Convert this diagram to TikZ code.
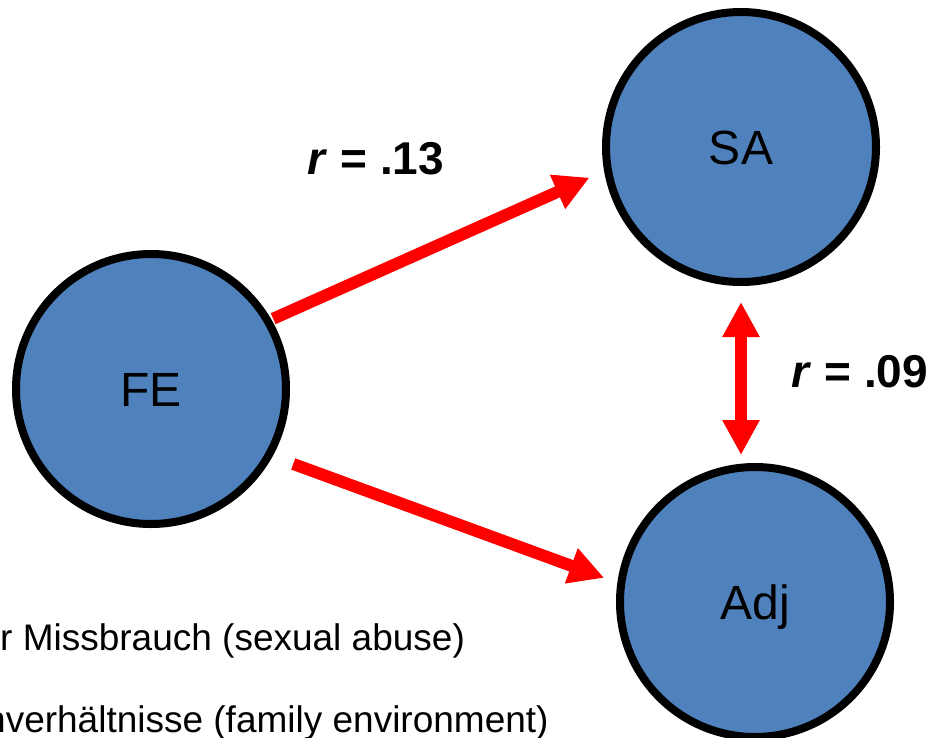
\documentclass[tikz,border=0pt]{standalone}
\usepackage{fontspec}
\setmainfont{Liberation Sans}
\usetikzlibrary{arrows.meta,calc}
\definecolor{varblue}{RGB}{79,129,189}
\tikzset{
  latent/.style={circle,draw=black,fill=varblue,line width=8pt,minimum size=270pt,
    inner sep=0pt,text height=34pt,text depth=0pt,font=\fontsize{48}{56}\selectfont},
  effarr/.style={-{Triangle[length=35pt,width=35pt]},line width=12pt,red},   % directed path
  corrarr/.style={{Triangle[length=35pt,width=35pt]}-{Triangle[length=35pt,width=35pt]},
    line width=12pt,red},                                                   % correlation
  rlbl/.style={font=\fontsize{46}{54}\selectfont\bfseries,inner sep=0pt,
    text height=33pt,text depth=0pt},
  legend/.style={font=\fontsize{37}{44}\selectfont,anchor=base west,inner sep=0pt},
}
\begin{document}
\begin{tikzpicture}[x=1pt,y=-1pt]
  \useasboundingbox (0,0) rectangle (932,737);
  % the three variables
  \node[latent] (FE)  at (151,389) {FE};
  \node[latent] (SA)  at (741,147) {SA};
  \node[latent] (Adj) at (755,602) {Adj};
  % paths
  \draw[effarr,shorten <=2pt,shorten >=16pt] (FE.30) -- (SA.190);
  \draw[effarr,shorten <=22pt,shorten >=14pt] (FE.-29) -- (Adj.172);
  \draw[corrarr,shorten <=16pt,shorten >=8pt] (SA.south) -- (SA.south |- Adj.north);
  \node[rlbl] (r13) at (376,158) {\textit{r} = .13};
  \node[rlbl] (r09) at (860,371) {\textit{r} = .09};
  % legend, cut at the left edge
  \node[legend] (lgSA) at (0,650) {r Missbrauch (sexual abuse)};
  \node[legend] (lgFE) at (-15,732) {nverhältnisse (family environment)};
\end{tikzpicture}
\end{document}
